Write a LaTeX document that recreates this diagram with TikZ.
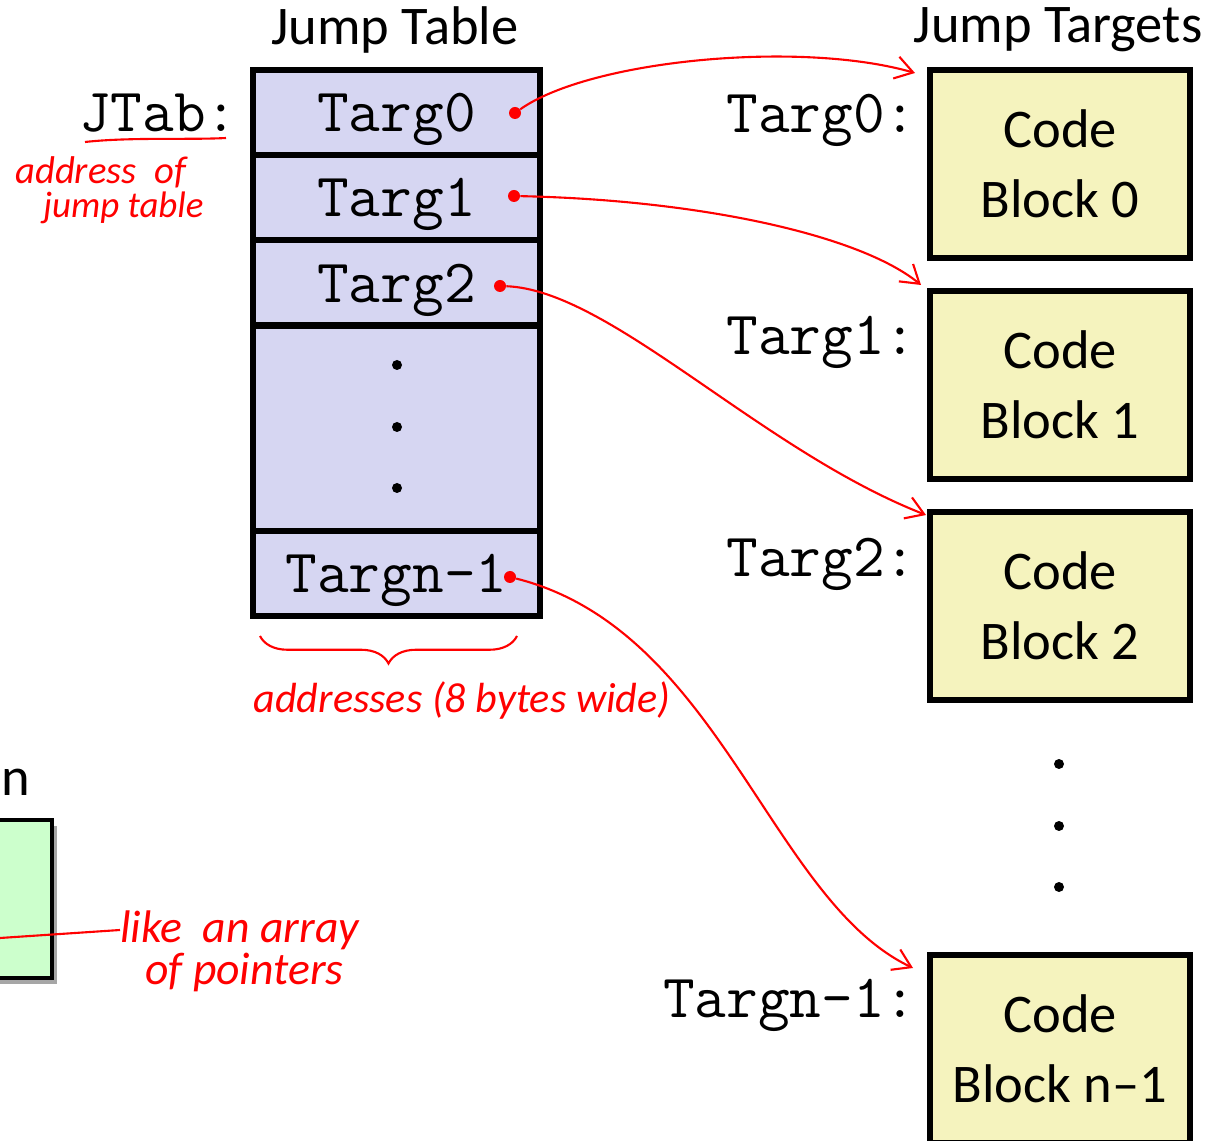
\documentclass[tikz,border=0pt]{standalone}
\usepackage{fontspec}
\setmainfont{Carlito}
\newfontfamily\handfont{Carlito}
\usetikzlibrary{arrows.meta,positioning,calc,decorations.pathreplacing}
\definecolor{tabBlue}{HTML}{D6D6F2}
\definecolor{blkYellow}{HTML}{F5F3BE}
\definecolor{srcGreen}{HTML}{CCFFCC}
\definecolor{inkRed}{HTML}{FF0000}

\begin{document}
\begin{tikzpicture}[x=0.02cm, y=-0.02cm,
  >={Straight Barb[length=3.5mm,width=4.5mm]},
  title/.style={font=\fontsize{31}{36}\selectfont},
  cell/.style={draw,line width=3.4pt,fill=tabBlue,minimum width=5.74cm,minimum height=1.7cm,
    inner sep=0pt,text depth=0pt,font=\ttfamily\fontsize{35}{38}\selectfont},
  block/.style={draw,line width=3.4pt,fill=blkYellow,minimum width=5.2cm,minimum height=3.76cm,
    align=center,inner sep=0pt,font=\fontsize{31}{40}\selectfont},
  lbl/.style={anchor=east,inner sep=0pt,text depth=0pt,font=\ttfamily\fontsize{35}{38}\selectfont},
  ptr/.style={circle,fill=inkRed,minimum size=0.24cm,inner sep=0pt},
  dot/.style={circle,fill=black,minimum size=0.2cm,inner sep=0pt},
  hand/.style={inkRed,font=\handfont\itshape\fontsize{22}{26}\selectfont,inner sep=0pt},
  ink/.style={inkRed,line width=1.2pt}]
\useasboundingbox (0,0) rectangle (1224,1141);
\clip (0,0) rectangle (1224,1141);

% source side (cut off at the left edge)
\node[title,anchor=base east,inner sep=0pt] (srcname) at (30,795) {n};
\fill[black!35] (-10,826) rectangle (57,984);
\node[draw,line width=2pt,fill=srcGreen,minimum width=1.4cm,minimum height=3.16cm,inner sep=0pt]
  (src) at (17,899) {};
\coordinate (srcptr) at (0,938);

% jump table
\node[title] (jtitle) at (395,30) {Jump Table};
\node[cell] (c0) at (396.5,112.5) {Targ0};
\node[cell] (c1) at (396.5,197.5) {Targ1};
\node[cell] (c2) at (396.5,283) {Targ2};
\node[cell,minimum height=4.1cm] (cdots) at (396.5,428.5) {};
\node[cell] (cn) at (396.5,573.5) {Targn-1};
\foreach \y in {365,427,488}
  \node[dot] at (397,\y) {};

\node[lbl] (jtab) at (238,113) {JTab:};
\draw[ink] (85,142) .. controls (130,137) and (190,140) .. (226,138);
\node[hand,anchor=west] (addr1) at (15,172) {address\ \ of};
\node[hand,anchor=west,font=\handfont\itshape\fontsize{21}{24}\selectfont] (addr2) at (43,208) {jump table};

% pointers in the table
\node[ptr] (p0) at (515,113) {};
\node[ptr] (p1) at (514,196) {};
\node[ptr] (p2) at (500,286) {};
\node[ptr] (pn) at (510,577) {};

\draw[ink,decorate,decoration={brace,amplitude=0.55cm,aspect=0.5}] (517,636) -- (260,636);
\node[hand,font=\handfont\itshape\fontsize{24}{28}\selectfont] (width) at (462,700) {addresses (8 bytes wide)};

% jump targets
\node[title] (ttitle) at (1058,30) {Jump Targets};
\node[block] (b0) at (1060,164) {Code\\Block 0};
\node[block] (b1) at (1060,385) {Code\\Block 1};
\node[block] (b2) at (1060,606) {Code\\Block 2};
\node[block] (bn) at (1060,1049) {Code\\Block n--1};
\node[lbl] (l0) at (917,113) {Targ0:};
\node[lbl] (l1) at (917,335) {Targ1:};
\node[lbl] (l2) at (917,557) {Targ2:};
\node[lbl] (ln) at (917,998) {Targn-1:};
\foreach \y in {764,826,887}
  \node[dot] at (1059,\y) {};

\coordinate (t0) at (915,73);
\coordinate (t1) at (921,285);
\coordinate (t2) at (926,515);
\coordinate (tn) at (913,968);
\draw[ink,->] (p0) .. controls (590,60) and (800,40) .. (t0);
\draw[ink,->] (p1) .. controls (700,200) and (860,235) .. (t1);
\draw[ink,->] (p2) .. controls (610,290) and (760,450) .. (t2);
\draw[ink,->] (pn) .. controls (720,630) and (770,900) .. (tn);

% note on the left
\node[hand,anchor=west,font=\handfont\itshape\fontsize{26}{30}\selectfont] (note1) at (120,930) {like\ \ an\ array};
\node[hand,anchor=west,font=\handfont\itshape\fontsize{26}{30}\selectfont] (note2) at (145,972) {of pointers};
\draw[ink] (srcptr) -- (note1.west);
\end{tikzpicture}
\end{document}
